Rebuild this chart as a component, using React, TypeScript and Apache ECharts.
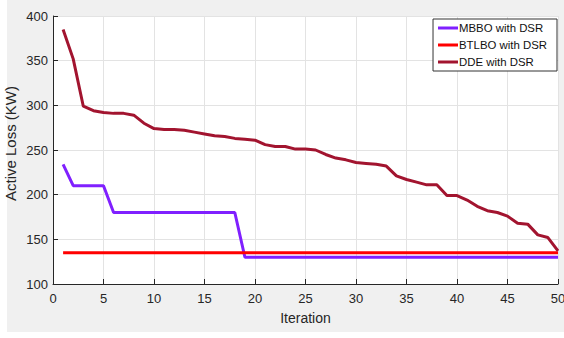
import React, { useEffect, useRef } from "react";
import * as echarts from "echarts";

const iterations = Array.from({ length: 50 }, (_, i) => i + 1);

const mbbo = [
  234, 210, 210, 210, 210, 180, 180, 180, 180, 180,
  180, 180, 180, 180, 180, 180, 180, 180, 130, 130,
  130, 130, 130, 130, 130, 130, 130, 130, 130, 130,
  130, 130, 130, 130, 130, 130, 130, 130, 130, 130,
  130, 130, 130, 130, 130, 130, 130, 130, 130, 130,
];

const btlbo = [
  135, 135, 135, 135, 135, 135, 135, 135, 135, 135,
  135, 135, 135, 135, 135, 135, 135, 135, 135, 135,
  135, 135, 135, 135, 135, 135, 135, 135, 135, 135,
  135, 135, 135, 135, 135, 135, 135, 135, 135, 135,
  135, 135, 135, 135, 135, 135, 135, 135, 135, 135,
];

const dde = [
  385, 352, 299, 294, 292, 291, 291, 289, 280, 274,
  273, 273, 272, 270, 268, 266, 265, 263, 262, 261,
  256, 254, 254, 251, 251, 250, 245, 241, 239, 236,
  235, 234, 232, 221, 217, 214, 211, 211, 199, 199,
  194, 187, 182, 180, 176, 168, 167, 155, 152, 137,
];

const seriesNames = ["MBBO with DSR", "BTLBO with DSR", "DDE with DSR"];
const seriesColors = ["#8020ff", "#ff0000", "#a2142f"];

export default function App() {
  const ref = useRef<HTMLDivElement>(null);
  useEffect(() => {
    if (!ref.current) return;
    const chart = echarts.init(ref.current, null, { renderer: "svg" });
    const toPairs = (arr: number[]) => arr.map((v, i) => [iterations[i], v]);
    const font = "Arial, 'Liberation Sans', Helvetica, sans-serif";
    chart.setOption({
      animation: false,
      backgroundColor: "#ffffff",
      graphic: [
        {
          type: "rect",
          z: -10,
          shape: { x: 7, y: 0, width: 557, height: 332 },
          style: { fill: "#f0f0f0" },
          silent: true,
        },
      ],
      grid: {
        left: 53,
        right: 6,
        top: 16,
        bottom: 54,
        show: true,
        backgroundColor: "#ffffff",
        borderWidth: 0,
        containLabel: false,
        outerBoundsMode: "none",
      },
      legend: {
        right: 7,
        top: 19,
        orient: "vertical",
        backgroundColor: "#ffffff",
        borderColor: "#333333",
        borderWidth: 1,
        borderRadius: 0,
        padding: [2, 10, 2, 5],
        itemGap: 3,
        itemWidth: 20,
        itemHeight: 3,
        icon: "rect",
        textStyle: {
          fontFamily: font,
          fontSize: 11.4,
          lineHeight: 14,
          color: "#111111",
          padding: [0, 0, 0, -4],
        },
        data: seriesNames,
      },
      xAxis: {
        type: "value",
        min: 0,
        max: 50,
        interval: 5,
        name: "Iteration",
        nameLocation: "middle",
        nameGap: 27,
        nameMoveOverlap: false,
        nameTextStyle: { fontFamily: font, fontSize: 14, color: "#262626" },
        axisLine: { show: true, onZero: false, lineStyle: { color: "#262626", width: 1 } },
        axisTick: { show: true, inside: true, length: 5, lineStyle: { color: "#262626" } },
        axisLabel: { fontFamily: font, fontSize: 13, color: "#262626", margin: 8 },
        splitLine: { show: true, lineStyle: { color: "#e3e3e3", width: 1 } },
      },
      yAxis: {
        type: "value",
        min: 100,
        max: 400,
        interval: 50,
        name: "Active Loss (KW)",
        nameLocation: "middle",
        nameGap: 35,
        nameMoveOverlap: false,
        nameTextStyle: {
          fontFamily: font,
          fontSize: 15,
          color: "#262626",
          padding: [0, 0, 0, 13],
        },
        axisLine: { show: true, lineStyle: { color: "#262626", width: 1 } },
        axisTick: { show: true, inside: true, length: 5, lineStyle: { color: "#262626" } },
        axisLabel: { fontFamily: font, fontSize: 13, color: "#262626", margin: 5 },
        splitLine: { show: true, lineStyle: { color: "#e3e3e3", width: 1 } },
      },
      series: [
        {
          name: seriesNames[0],
          type: "line",
          data: toPairs(mbbo),
          showSymbol: false,
          symbol: "none",
          lineStyle: { color: seriesColors[0], width: 3 },
          itemStyle: { color: seriesColors[0] },
          z: 2,
        },
        {
          name: seriesNames[1],
          type: "line",
          data: toPairs(btlbo),
          showSymbol: false,
          symbol: "none",
          lineStyle: { color: seriesColors[1], width: 3 },
          itemStyle: { color: seriesColors[1] },
          z: 3,
        },
        {
          name: seriesNames[2],
          type: "line",
          data: toPairs(dde),
          showSymbol: false,
          symbol: "none",
          lineStyle: { color: seriesColors[2], width: 3 },
          itemStyle: { color: seriesColors[2] },
          z: 4,
        },
      ],
    });
    return () => chart.dispose();
  }, []);
  return (
    <div
      ref={ref}
      style={{ position: "absolute", left: 0, top: 0, width: 564, height: 338 }}
    />
  );
}
